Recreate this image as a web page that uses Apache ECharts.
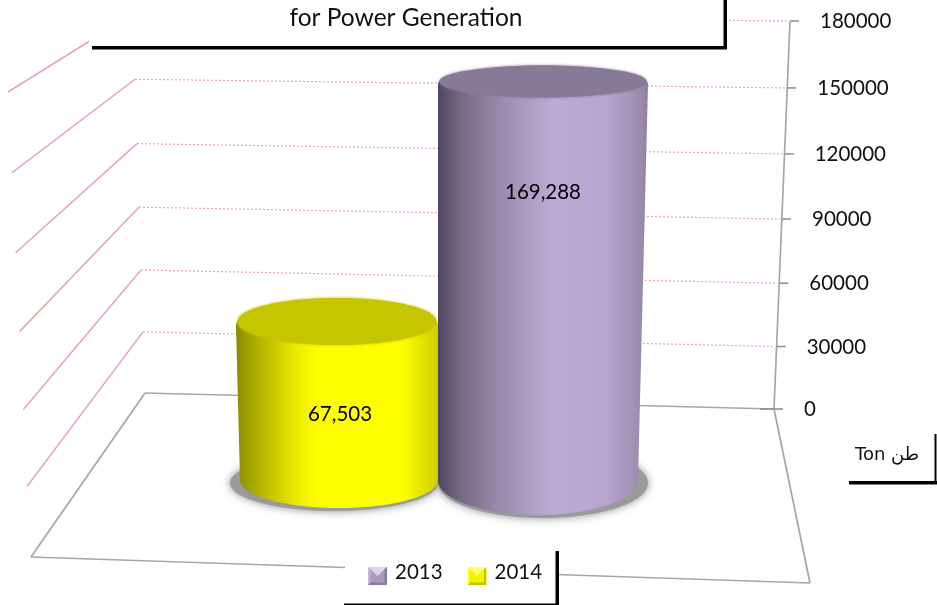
<!DOCTYPE html>
<html>
<head>
<meta charset="utf-8">
<style>html,body{margin:0;padding:0;background:#fff}#c{width:937px;height:605px}</style>
<script src="https://cdn.jsdelivr.net/npm/echarts@6/dist/echarts.min.js"></script>
</head>
<body>
<div id="c"></div>
<script>
var categories = ['2014', '2013'];
var values2013 = [169288];
var values2014 = [67503];
var tickValues = [0, 30000, 60000, 90000, 120000, 150000, 180000];
var axisMax = 180000;
var titleText = 'for Power Generation';
var unitText = 'Ton طن';

var FONT = 'Lato';
function persp(t, k) { return t / (1 + k * (1 - t)); }

function icon(base, top, dark, light) {
  var s = '<svg xmlns="http://www.w3.org/2000/svg" width="19" height="26" viewBox="0 -8 19 26">' +
    '<rect width="19" height="18" fill="' + base + '"/>' +
    '<polygon points="0,0 19,0 9.5,9" fill="' + light + '"/>' +
    '<polygon points="0,18 19,18 16.5,15.5 2.5,15.5" fill="' + dark + '"/>' +
    '<polygon points="19,0 19,18 16.5,15.5 16.5,2.5" fill="' + dark + '"/>' +
    '<polygon points="0,0 0,18 2.5,15.5 2.5,2.5" fill="' + top + '"/></svg>';
  return 'image://data:image/svg+xml;charset=utf-8,' + encodeURIComponent(s);
}

var looks = {
  '2013': {
    baseDx: -5, baseRx: 100, baseRy: 35, topRx: 105, topRy: 18.5, order: 3, labelDy: 108, labelDx: 0,
    shadow: '#9a9a9a', shadowDx: 5, top: '#867a97', lip: 2.5,
    stops: [[0, '#4d4560'], [0.1, '#746880'], [0.3, '#9a8cae'], [0.55, '#bcabd3'], [0.8, '#b6a5cf'], [0.97, '#9a8bad'], [1, '#8d7fa0']]
  },
  '2014': {
    baseDx: 2, baseRx: 99, baseRy: 28, topRx: 101, topRy: 27.5, order: 2, labelDy: 89, labelDx: 3,
    shadow: '#9a9a9a', shadowDx: -5, top: '#c5c500', lip: 4,
    stops: [[0, '#8a8a00'], [0.12, '#b5b500'], [0.32, '#f0f000'], [0.42, '#ffff00'], [0.82, '#ffff00'], [1, '#cfcf00']]
  }
};

function gradient(stops) {
  return new echarts.graphic.LinearGradient(0, 0, 1, 0, stops.map(function (s) {
    return { offset: s[0], color: s[1] };
  }));
}

function renderCylinder(params, api) {
  var look = looks[params.seriesName];
  var cat = api.value(0), val = api.value(1);
  var cx = api.coord([cat, 0])[0];
  var gridTop = params.coordSys.y, gridH = params.coordSys.height;
  var baseY = gridTop + gridH;
  var topY = baseY - gridH * persp((baseY - api.coord([cat, val])[1]) / gridH, 0.04);
  var bx = cx + look.baseDx;
  var pts = [[cx - look.topRx, topY], [cx + look.topRx, topY]];
  for (var i = 0; i <= 80; i++) {
    var a = Math.PI * i / 80;
    pts.push([bx + look.baseRx * Math.cos(a), baseY + look.baseRy * Math.sin(a)]);
  }
  var grad = gradient(look.stops);
  return {
    type: 'group',
    children: [
      { type: 'ellipse', z2: 1,
        shape: { cx: bx + look.shadowDx, cy: baseY + 3, rx: look.baseRx + 5, ry: look.baseRy },
        style: { fill: look.shadow, shadowBlur: 9, shadowColor: 'rgba(130,130,130,0.9)' } },
      { type: 'polygon', z2: look.order * 2, shape: { points: pts }, style: { fill: grad } },
      { type: 'ellipse', z2: look.order * 2 + 0.1,
        shape: { cx: cx, cy: topY, rx: look.topRx, ry: look.topRy }, style: { fill: grad } },
      { type: 'ellipse', z2: look.order * 2 + 0.2,
        shape: { cx: cx, cy: topY - look.lip, rx: look.topRx - 1.5, ry: look.topRy - look.lip },
        style: { fill: look.top, shadowBlur: 3, shadowColor: look.top } },
      { type: 'text', z2: 20,
        style: { x: cx + look.labelDx, y: topY + look.labelDy,
          text: val.toLocaleString('en-US'), font: '20.5px ' + FONT, fill: '#000',
          align: 'center', verticalAlign: 'middle' } }
    ]
  };
}

function renderWall(params, api) {
  var v = api.value(1);
  var cs = params.coordSys;
  var base = cs.y + cs.height;
  var frac = (base - api.coord([0, v])[1]) / cs.height;
  var p = persp(frac, 0.042);
  var rightX = 774 + 16 * frac, rightY = base - cs.height * p;
  var leftX = 145 - 12 * frac, leftY = 393 - 379 * persp(frac, 0.04);
  var frontX = 31 - 23 * frac, frontY = 562 - 470 * persp(frac, 0.04);
  var kids = [
    { type: 'line', shape: { x1: rightX - (v === 0 ? 14 : 0), y1: rightY, x2: rightX + 9, y2: rightY },
      style: { stroke: '#8c8c8c', lineWidth: 1.5 } },
    { type: 'text', style: { x: rightX + 30, y: rightY + 0.5, text: String(v), font: '20.5px ' + FONT,
      fill: '#111', align: 'left', verticalAlign: 'middle' } }
  ];
  if (v > 0) {
    kids.push(
      { type: 'line', shape: { x1: leftX, y1: leftY, x2: rightX - 2, y2: rightY },
        style: { stroke: '#e8a8a8', lineWidth: 1.2, lineDash: [2, 2] } },
      { type: 'line', shape: { x1: leftX, y1: leftY, x2: frontX, y2: frontY },
        style: { stroke: '#dfa9a9', lineWidth: 1.5 } });
  }
  return { type: 'group', children: kids };
}

var grey = { stroke: '#a6a6a6', lineWidth: 1.7 };
var floorLines = [
  [145, 393, 774, 409], [145, 393, 31, 557], [31, 557, 810, 583], [774, 409, 810, 583], [790, 21, 774, 409]
].map(function (l) {
  return { type: 'line', z: 1, shape: { x1: l[0], y1: l[1], x2: l[2], y2: l[3] }, style: grey };
});
function bar(x, y, w, h) {
  return { type: 'rect', z: 3, shape: { x: x, y: y, width: w, height: h }, style: { fill: '#000' } };
}
function white(x, y, w, h) {
  return { type: 'rect', z: 3, shape: { x: x, y: y, width: w, height: h }, style: { fill: '#fff' } };
}

var chart = echarts.init(document.getElementById('c'));
chart.setOption({
  animation: false,
  backgroundColor: '#fff',
  title: {
    text: titleText, left: 401, top: 1, textAlign: 'center',
    textStyle: { fontFamily: FONT, fontSize: 24.5, fontWeight: 'normal', color: '#111' }
  },
  legend: {
    left: 363, top: 554, itemWidth: 19, itemHeight: 26, itemGap: 25, selectedMode: false,
    textStyle: { fontFamily: FONT, fontSize: 20.5, color: '#111', padding: [0, 0, 0, 3] },
    data: [
      { name: '2013', icon: icon('#a899bd', '#c4b8d6', '#8a7b9e', '#dcd3ea') },
      { name: '2014', icon: icon('#f2f200', '#fbfb30', '#c4c400', '#ffff66') }
    ]
  },
  grid: [
    { left: 760, width: 60, top: 21, height: 388 },
    { left: 234, width: 412, top: 58, height: 422 }
  ],
  xAxis: [
    { gridIndex: 0, type: 'value', min: 0, max: 1, show: false },
    { gridIndex: 1, type: 'category', data: categories, show: false }
  ],
  yAxis: [
    { gridIndex: 0, type: 'value', min: 0, max: axisMax, interval: 30000, show: false },
    { gridIndex: 1, type: 'value', min: 0, max: axisMax, interval: 30000, show: false }
  ],
  series: [
    { name: 'wall', type: 'custom', xAxisIndex: 0, yAxisIndex: 0, z: 2, silent: true,
      renderItem: renderWall, data: tickValues.map(function (v) { return [0, v]; }) },
    { name: '2013', type: 'custom', xAxisIndex: 1, yAxisIndex: 1, z: 2, renderItem: renderCylinder,
      itemStyle: { color: '#a899bd' }, encode: { x: 0, y: 1 },
      data: values2013.map(function (v) { return [1, v]; }) },
    { name: '2014', type: 'custom', xAxisIndex: 1, yAxisIndex: 1, z: 2, renderItem: renderCylinder,
      itemStyle: { color: '#f2f200' }, encode: { x: 0, y: 1 },
      data: values2014.map(function (v) { return [0, v]; }) }
  ],
  graphic: { elements: floorLines.concat([
    white(89, 0, 638, 47), bar(92, 46, 635, 3.5), bar(723.5, 0, 3.5, 49),
    white(345, 552, 212, 53), bar(344, 603.5, 214, 1.5), bar(555.5, 551, 3.5, 54),
    white(849, 434, 86, 48), bar(849, 481, 88, 3.5), bar(934.5, 434, 2, 50),
    { type: 'text', z: 4, style: { x: 855, y: 455, text: unitText, font: '18px "DejaVu Sans"',
      fill: '#111', align: 'left', verticalAlign: 'middle' } }
  ]) }
});
</script>
</body>
</html>
